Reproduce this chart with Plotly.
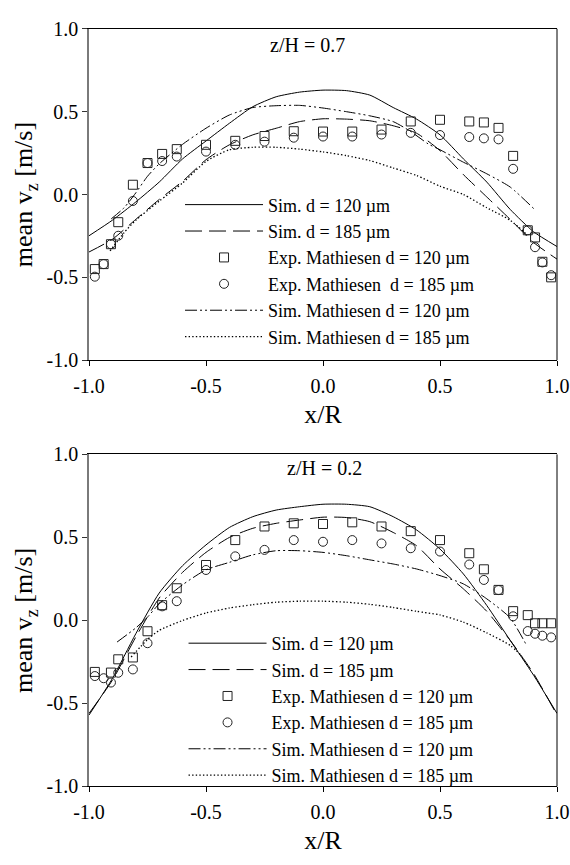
import plotly.graph_objects as go

# ---------------- tick labels ----------------
tick_vals = [-1.0, -0.5, 0.0, 0.5, 1.0]
tick_text = ["-1.0", "-0.5", "0.0", "0.5", "1.0"]

# ---------------- z/H = 0.7 ----------------
x_sim_07 = [-1.0, -0.9, -0.8, -0.7, -0.6, -0.5, -0.4, -0.3, -0.2, -0.1, 0.0,
            0.1, 0.2, 0.3, 0.4, 0.5, 0.6, 0.7, 0.8, 0.9, 1.0]
sim120_07 = [-0.249, -0.155, -0.045, 0.075, 0.215, 0.323, 0.43, 0.530, 0.590, 0.618, 0.630,
             0.627, 0.600, 0.525, 0.455, 0.360, 0.215, 0.075, -0.09, -0.225, -0.314]
sim185_07 = [-0.347, -0.27, -0.15, -0.03, 0.08, 0.21, 0.30, 0.36, 0.40, 0.44, 0.457,
             0.455, 0.445, 0.415, 0.37, 0.265, 0.12, -0.015, -0.15, -0.29, -0.39]

x_m120_07 = [-0.905, -0.85, -0.8, -0.75, -0.7, -0.6, -0.5, -0.4, -0.3, -0.2, -0.1, 0.0,
             0.1, 0.2, 0.3, 0.375, 0.45, 0.5, 0.6, 0.7, 0.8, 0.91]
m120_07 = [-0.147, -0.08, 0.01, 0.11, 0.185, 0.303, 0.40, 0.48, 0.525, 0.536, 0.538, 0.522,
           0.50, 0.475, 0.44, 0.38, 0.305, 0.27, 0.195, 0.125, 0.045, -0.098]

x_m185_07 = [-0.91, -0.85, -0.8, -0.7, -0.6, -0.5, -0.4, -0.3, -0.2, -0.1, 0.0,
             0.1, 0.2, 0.3, 0.4, 0.5, 0.6, 0.7, 0.8, 0.87]
m185_07 = [-0.34, -0.23, -0.155, -0.04, 0.07, 0.20, 0.27, 0.285, 0.285, 0.274, 0.257,
           0.235, 0.205, 0.16, 0.115, 0.05, 0.0, -0.08, -0.155, -0.24]

x_exp_07 = [-0.975, -0.9375, -0.90625, -0.875, -0.8125, -0.75, -0.6875, -0.625, -0.5,
            -0.375, -0.25, -0.125, 0.0, 0.125, 0.25, 0.375, 0.5, 0.625, 0.6875, 0.75,
            0.8125, 0.875, 0.90625, 0.9375, 0.975]
exp120_07 = [-0.45, -0.42, -0.30, -0.167, 0.059, 0.19, 0.245, 0.274, 0.30,
             0.324, 0.353, 0.382, 0.38, 0.38, 0.392, 0.441, 0.451, 0.441, 0.435, 0.402,
             0.233, -0.216, -0.259, -0.406, -0.50]
exp185_07 = [-0.496, -0.42, -0.30, -0.249, -0.039, 0.19, 0.202, 0.229, 0.259,
             0.30, 0.319, 0.343, 0.35, 0.35, 0.362, 0.372, 0.359, 0.347, 0.339, 0.333,
             0.155, -0.216, -0.318, -0.41, -0.487]

# ---------------- z/H = 0.2 ----------------
x_sim_02 = [-1.0, -0.9, -0.8, -0.7, -0.6, -0.5, -0.4, -0.3, -0.2, -0.1, 0.0,
            0.1, 0.2, 0.3, 0.4, 0.5, 0.6, 0.7, 0.8, 0.9, 1.0]
sim120_02 = [-0.57, -0.35, -0.08, 0.165, 0.33, 0.455, 0.56, 0.625, 0.665, 0.685, 0.70,
             0.70, 0.685, 0.625, 0.545, 0.43, 0.28, 0.09, -0.12, -0.33, -0.56]
sim185_02 = [-0.56, -0.36, -0.10, 0.135, 0.29, 0.41, 0.50, 0.555, 0.585, 0.605, 0.622,
             0.62, 0.595, 0.53, 0.45, 0.31, 0.19, 0.055, -0.12, -0.32, -0.57]

x_m120_02 = [-0.88, -0.8, -0.75, -0.7, -0.6, -0.5, -0.4, -0.3, -0.2, -0.1, 0.0,
             0.1, 0.2, 0.3, 0.4, 0.5, 0.6, 0.7, 0.8, 0.87]
m120_02 = [-0.13, -0.045, 0.02, 0.10, 0.215, 0.305, 0.35, 0.395, 0.42, 0.42, 0.41,
           0.39, 0.365, 0.34, 0.31, 0.27, 0.22, 0.13, 0.015, -0.15]

x_m185_02 = [-0.82, -0.75, -0.7, -0.6, -0.5, -0.4, -0.3, -0.2, -0.1, 0.0,
             0.1, 0.2, 0.3, 0.4, 0.5, 0.6, 0.7, 0.8, 0.85]
m185_02 = [-0.22, -0.115, -0.06, 0.0, 0.045, 0.075, 0.095, 0.11, 0.116, 0.116,
           0.11, 0.097, 0.078, 0.055, 0.033, -0.01, -0.075, -0.15, -0.215]

x_exp120_02 = [-0.975, -0.90625, -0.875, -0.8125, -0.75, -0.6875, -0.625, -0.5,
               -0.375, -0.25, -0.125, 0.0, 0.125, 0.25, 0.375, 0.5, 0.625, 0.6875, 0.75,
               0.8125, 0.875, 0.90625, 0.9375, 0.975]
exp120_02 = [-0.31, -0.314, -0.234, -0.223, -0.065, 0.092, 0.194, 0.334,
             0.484, 0.566, 0.585, 0.581, 0.591, 0.566, 0.538, 0.484, 0.405, 0.308, 0.184,
             0.056, 0.032, -0.017, -0.017, -0.017]
x_exp185_02 = [-0.975, -0.9375, -0.90625, -0.875, -0.8125, -0.75, -0.6875, -0.625, -0.5,
               -0.375, -0.25, -0.125, 0.0, 0.125, 0.25, 0.375, 0.5, 0.625, 0.6875, 0.75,
               0.8125, 0.875, 0.90625, 0.9375, 0.975]
exp185_02 = [-0.335, -0.348, -0.374, -0.315, -0.295, -0.137, 0.085, 0.116, 0.304,
             0.386, 0.425, 0.484, 0.474, 0.484, 0.464, 0.435, 0.415, 0.337, 0.244, 0.183,
             0.025, -0.064, -0.08, -0.092, -0.102]

names_07 = ["Sim. d = 120 µm", "Sim. d = 185 µm", "Exp. Mathiesen d = 120 µm",
            "Exp. Mathiesen\u00a0 d = 185 µm", "Sim. Mathiesen d = 120 µm",
            "Sim. Mathiesen d = 185 µm"]
names_02 = ["Sim. d = 120 µm", "Sim. d = 185 µm", "Exp. Mathiesen d = 120 µm",
            "Exp. Mathiesen d = 185 µm", "Sim. Mathiesen d = 120 µm",
            "Sim. Mathiesen d = 185 µm"]

FONT = "Liberation Serif"
LONG_DASH = "17px,7px"
DASH_DOT_DOT = "12px,3px,2px,3px,2px,3px"
DOTTED = "1.4px,2.2px"

fig = go.Figure()


def add_panel(xa, ya, legend, names, sims, exps):
    for (xs, ys), dash, name, grp in zip(sims[:2], ["solid", LONG_DASH], names[:2], ["a", "b"]):
        fig.add_trace(go.Scatter(x=xs, y=ys, mode="lines", name=name,
                                 line=dict(color="black", width=1, dash=dash,
                                           shape="spline", smoothing=0.6),
                                 xaxis=xa, yaxis=ya, legend=legend, legendgroup=legend + grp))
    for (xs, ys), sym, name, grp in zip(exps, ["square-open", "circle-open"], names[2:4], ["c", "d"]):
        fig.add_trace(go.Scatter(x=xs, y=ys, mode="markers", name=name,
                                 marker=dict(symbol=sym, size=9, color="#222",
                                             line=dict(width=1, color="#222")),
                                 xaxis=xa, yaxis=ya, legend=legend, legendgroup=legend + grp))
    for (xs, ys), dash, w, name, grp in zip(sims[2:], [DASH_DOT_DOT, DOTTED], [1, 1.3],
                                            names[4:], ["e", "f"]):
        fig.add_trace(go.Scatter(x=xs, y=ys, mode="lines", name=name,
                                 line=dict(color="black", width=w, dash=dash,
                                           shape="spline", smoothing=0.6),
                                 xaxis=xa, yaxis=ya, legend=legend, legendgroup=legend + grp))


add_panel("x", "y", "legend", names_07,
          [(x_sim_07, sim120_07), (x_sim_07, sim185_07), (x_m120_07, m120_07), (x_m185_07, m185_07)],
          [(x_exp_07, exp120_07), (x_exp_07, exp185_07)])
add_panel("x2", "y2", "legend2", names_02,
          [(x_sim_02, sim120_02), (x_sim_02, sim185_02), (x_m120_02, m120_02), (x_m185_02, m185_02)],
          [(x_exp120_02, exp120_02), (x_exp185_02, exp185_02)])

H = 865.0
top_dom = [1 - 358.3 / H, 1 - 18.3 / H]
bot_dom = [1 - 795.7 / H, 1 - 455.0 / H]


def xaxis_cfg(anchor):
    return dict(range=[-1, 1], tickvals=tick_vals, ticktext=tick_text, ticks="outside",
                ticklen=5, tickcolor="black", showline=True, linecolor="black", linewidth=1,
                mirror=True, showgrid=False, zeroline=False, anchor=anchor, domain=[0, 1],
                ticklabelstandoff=3,
                tickfont=dict(family=FONT, size=20, color="black"),
                title=dict(text="x/R", font=dict(family=FONT, size=26, color="black"), standoff=8))


def yaxis_cfg(anchor, dom):
    return dict(range=[-1, 1], tickvals=tick_vals, ticktext=tick_text, ticks="outside",
                ticklen=5, tickcolor="#333", showline=True, linecolor="#7a7a7a", linewidth=1.5,
                mirror=False, showgrid=False, zeroline=False, anchor=anchor, domain=dom,
                tickfont=dict(family=FONT, size=20, color="black"),
                title=dict(text="mean v<sub>z</sub> [m/s]",
                           font=dict(family=FONT, size=26, color="black"), standoff=6))


legend_common = dict(font=dict(family=FONT, size=18, color="black"), bgcolor="rgba(0,0,0,0)",
                     borderwidth=0, xanchor="left", yanchor="top", itemwidth=78,
                     tracegroupgap=0, traceorder="grouped")

fig.update_layout(
    width=570, height=865,
    margin=dict(l=88.5, r=13, t=0, b=0),
    paper_bgcolor="white", plot_bgcolor="white",
    font=dict(family=FONT, color="black"),
    xaxis=xaxis_cfg("y"), yaxis=yaxis_cfg("x", top_dom),
    xaxis2=xaxis_cfg("y2"), yaxis2=yaxis_cfg("x2", bot_dom),
    legend=dict(x=0.1945, y=1 - 180 / H, **legend_common),
    legend2=dict(x=0.202, y=1 - 630 / H, **legend_common),
    showlegend=True,
    shapes=[
        dict(type="line", xref="x domain", yref="y domain", x0=1, x1=1, y0=0, y1=1,
             line=dict(color="black", width=1)),
        dict(type="line", xref="x2 domain", yref="y2 domain", x0=1, x1=1, y0=0, y1=1,
             line=dict(color="black", width=1)),
    ],
    annotations=[
        dict(text="z/H = 0.7", x=-0.065, y=0.905, xref="x", yref="y", showarrow=False,
             font=dict(family=FONT, size=20, color="black")),
        dict(text="z/H = 0.2", x=0.005, y=0.92, xref="x2", yref="y2", showarrow=False,
             font=dict(family=FONT, size=20, color="black")),
    ],
)

fig.write_html("out.html")
